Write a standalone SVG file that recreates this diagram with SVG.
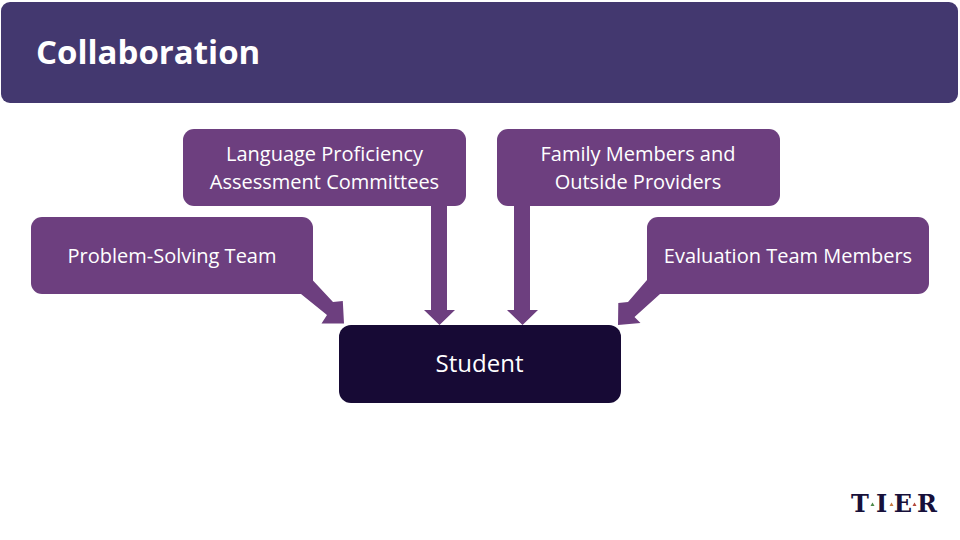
<svg xmlns="http://www.w3.org/2000/svg" width="960" height="540" viewBox="0 0 960 540">
<style>
text{font-family:"Open Sans","Noto Sans","DejaVu Sans",sans-serif;fill:#fff;text-anchor:middle}
.n{fill:#6d3f7f}
.l{font-size:20px}
.a{fill:#6d3f7f}
.logo{font-family:"DejaVu Serif","Liberation Serif",serif;font-weight:bold;font-size:24px;fill:#17103a}
</style>
<rect width="960" height="540" fill="#fff"/>
<g id="title"><rect x="1" y="2" width="957" height="101" rx="9" fill="#43386f"/>
<text x="36" y="64" font-size="33" font-weight="700" style="text-anchor:start">Collaboration</text></g>
<g id="connectors">
<path class="a" d="M431 200H447V310H455L439.500 325L424 310H431Z"/>
<path class="a" d="M514 200H530V310H538L522.500 325L507 310H514Z"/>
<path class="a" d="M295 280H312.500L333 302L342.800 301L344 323.500L321.500 323.500L327 315L301 294H295Z"/>
<path class="a" d="M665 280H647L628 302L618.300 303L618 325L640.500 323L634.500 317L660 294H665Z"/>
</g>
<g id="n-language"><rect class="n" x="183" y="129" width="283" height="77" rx="11"/>
<text class="l" x="324.500" y="161">Language Proficiency</text><text class="l" x="324.500" y="189">Assessment Committees</text></g>
<g id="n-family"><rect class="n" x="497" y="129" width="283" height="77" rx="11"/>
<text class="l" x="638" y="161">Family Members and</text><text class="l" x="638" y="189">Outside Providers</text></g>
<g id="n-problem"><rect class="n" x="31" y="217" width="282" height="77" rx="11"/>
<text class="l" x="172" y="263">Problem-Solving Team</text></g>
<g id="n-evaluation"><rect class="n" x="647" y="217" width="282" height="77" rx="11"/>
<text class="l" x="788" y="263">Evaluation Team Members</text></g>
<g id="n-student"><rect x="339" y="325" width="282" height="78" rx="12" fill="#170a35"/>
<text x="479.500" y="372" font-size="24">Student</text></g>
<g id="logo">
<text class="logo" x="860" y="512">T</text>
<text class="logo" x="881.500" y="512">I</text>
<text class="logo" x="903" y="512">E</text>
<text class="logo" x="927" y="512">R</text>
<path d="M870.500 506l2 -3.500l2 3.500z" fill="#4d8a4a"/>
<path d="M889.500 506l2 -3.500l2 3.500z" fill="#c9793f"/>
<path d="M912.500 506l2 -3.500l2 3.500z" fill="#b5483a"/>
</g>
</svg>
